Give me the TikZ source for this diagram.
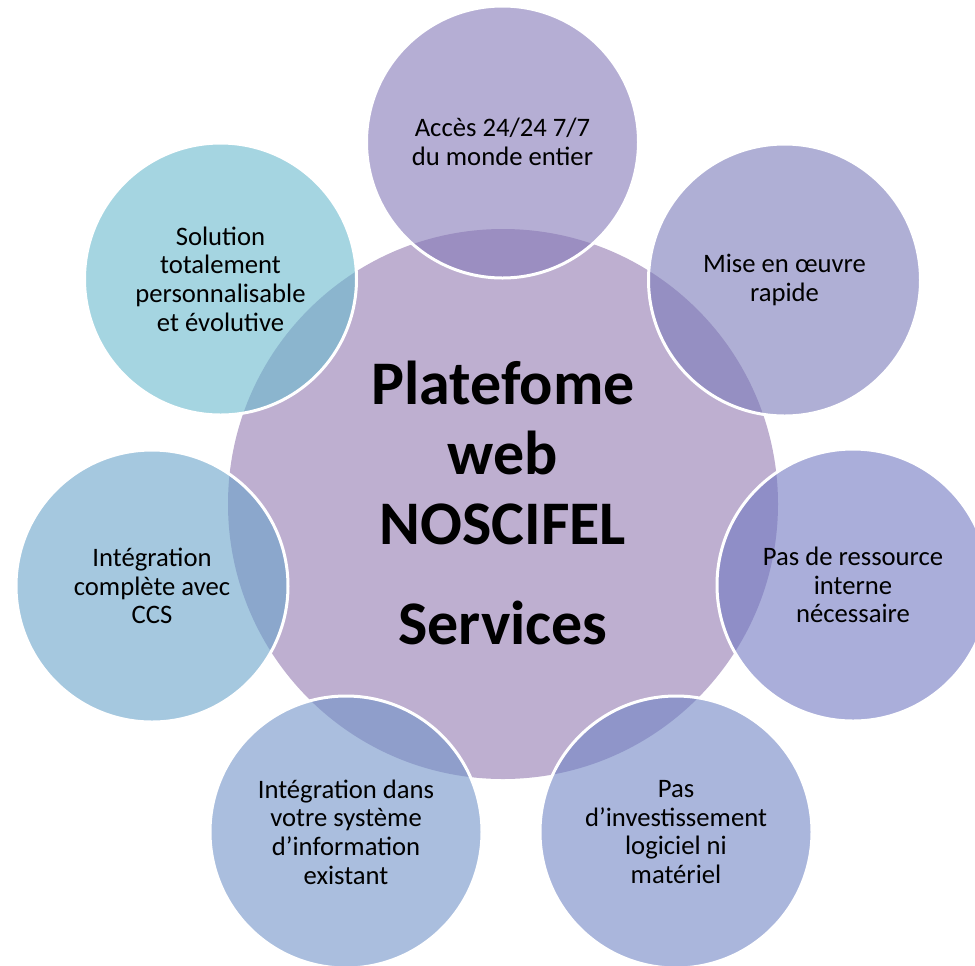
\documentclass[tikz,border=0pt]{standalone}
\usepackage{fontspec}
\setmainfont{Carlito}
\usetikzlibrary{positioning}
\definecolor{hubfill}{RGB}{190,175,208}
\definecolor{spoke1}{RGB}{132,120,183}
\definecolor{spoke2}{RGB}{122,122,185}
\definecolor{spoke3}{RGB}{113,120,193}
\definecolor{spoke4}{RGB}{113,133,197}
\definecolor{spoke5}{RGB}{113,147,200}
\definecolor{spoke6}{RGB}{105,163,202}
\definecolor{spoke7}{RGB}{105,185,205}
\tikzset{
  hub/.style={circle, fill=hubfill, minimum size=412.5pt, inner sep=0pt},
  spoke/.style={circle, draw=white, line width=2.25pt, fill=#1,
    fill opacity=0.6, text opacity=1,
    minimum size=204pt, inner sep=0pt, align=center,
    font=\fontsize{20}{21.5}\selectfont},
}

\begin{document}
\begin{tikzpicture}[
  x=0.75pt,y=-0.75pt,
  title/.style={align=center, inner sep=0pt,
    font=\fontsize{46.5}{52.5}\selectfont\bfseries}
]
\useasboundingbox (0,0) rectangle (975,965);
\clip (0,0) rectangle (975,965);

% ---- Hub in the middle ----
\node[hub] (hub) at (503,504) {};
\node[title] (title) at (503,503) {Platefome\\web\\NOSCIFEL\\[22.5pt]Services};

% ---- Spokes around the hub, clockwise from the top ----
\node[spoke=spoke1] (acces) at (502.5,142) {Accès 24/24 7/7\\du monde entier};
\node[spoke=spoke2] (rapide) at (784.5,280) {Mise en œuvre\\rapide};
\node[spoke=spoke3] (ressource) at (853,585) {Pas de ressource\\interne\\nécessaire};
\node[spoke=spoke4] (invest) at (676,832) {Pas\\d’investissement\\logiciel ni\\matériel};
\node[spoke=spoke5] (systeme) at (346,832) {Intégration dans\\votre système\\d’information\\existant};
\node[spoke=spoke6] (ccs) at (152,586) {Intégration\\complète avec\\CCS};
\node[spoke=spoke7] (solution) at (220.5,279) {Solution\\totalement\\personnalisable\\et évolutive};

\end{tikzpicture}
\end{document}
